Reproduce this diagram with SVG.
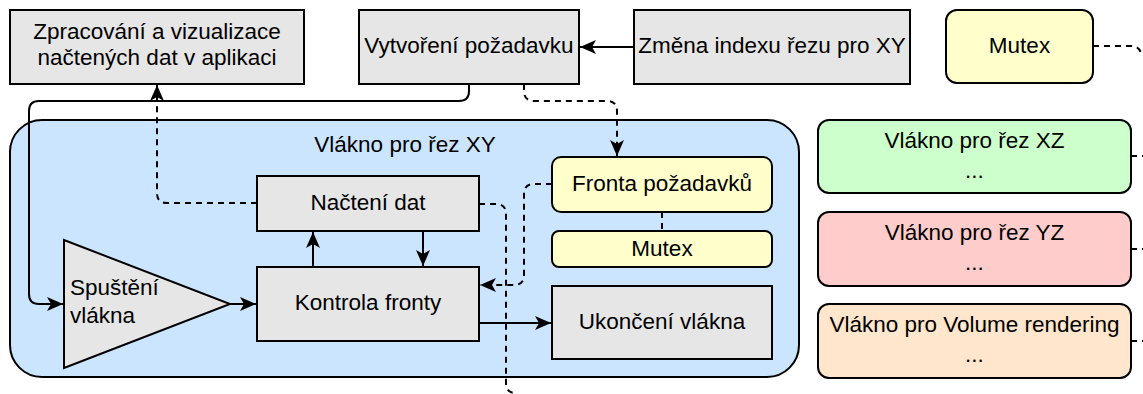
<svg xmlns="http://www.w3.org/2000/svg" width="1143" height="394" viewBox="0 0 1143 394">
<style>
text{font-family:"Liberation Sans",Arial,sans-serif;font-size:22.5px;fill:#000;text-anchor:middle;dominant-baseline:central}
.b{stroke:#000;stroke-width:2}
.g{fill:#e6e6e6}
.y{fill:#ffffcc}
.c{fill:none;stroke:#000;stroke-width:2}
.d{stroke-dasharray:6 5}
</style>
<defs>
<marker id="a" markerUnits="userSpaceOnUse" markerWidth="18" markerHeight="14" refX="16" refY="7" orient="auto">
<path d="M0,0 L16,7 L0,14 L4,7 Z" fill="#000"/>
</marker>
</defs>
<g id="container">
<rect class="b" x="10" y="120" width="789" height="257" rx="32" fill="#cce5ff"/>
<text x="405" y="144">Vlákno pro řez XY</text>
</g>
<g id="zpracovani">
<rect class="b g" x="10" y="10" width="294" height="74"/>
<text x="157" y="31.5">Zpracování a vizualizace</text>
<text x="157" y="57.5">načtených dat v aplikaci</text>
</g>
<g id="vytvoreni">
<rect class="b g" x="359" y="10" width="220" height="74"/>
<text x="469" y="45.5">Vytvoření požadavku</text>
</g>
<g id="zmena">
<rect class="b g" x="634" y="10" width="276" height="74"/>
<text x="772" y="45.5">Změna indexu řezu pro XY</text>
</g>
<g id="mutex-top">
<rect class="b y" x="946" y="10" width="147" height="73" rx="11"/>
<text x="1019.5" y="45">Mutex</text>
</g>
<g id="nacteni">
<rect class="b g" x="257" y="176" width="222" height="55"/>
<text x="368" y="202">Načtení dat</text>
</g>
<g id="kontrola">
<rect class="b g" x="257" y="267" width="222" height="74"/>
<text x="368" y="302.5">Kontrola fronty</text>
</g>
<g id="spusteni">
<polygon class="b g" points="64,240 64,368 230,304"/>
<text x="70" y="287" style="text-anchor:start">Spuštění</text>
<text x="70" y="315" style="text-anchor:start">vlákna</text>
</g>
<g id="fronta">
<rect class="b y" x="552" y="157" width="220" height="55" rx="9"/>
<text x="662" y="183">Fronta požadavků</text>
</g>
<g id="mutex-inner">
<rect class="b y" x="552" y="231" width="220" height="36" rx="7"/>
<text x="662" y="248">Mutex</text>
</g>
<g id="ukonceni">
<rect class="b g" x="552" y="286" width="220" height="73"/>
<text x="662" y="321.5">Ukončení vlákna</text>
</g>
<g id="xz">
<rect class="b" x="818" y="120" width="313" height="73" rx="11" fill="#ccffcc"/>
<text x="974.5" y="140">Vlákno pro řez XZ</text>
<text x="974.5" y="170">...</text>
</g>
<g id="yz">
<rect class="b" x="818" y="212" width="313" height="74" rx="11" fill="#ffcccc"/>
<text x="974.5" y="232">Vlákno pro řez YZ</text>
<text x="974.5" y="262">...</text>
</g>
<g id="volume">
<rect class="b" x="818" y="304" width="313" height="74" rx="11" fill="#ffe6cc"/>
<text x="974.5" y="324">Vlákno pro Volume rendering</text>
<text x="974.5" y="354">...</text>
</g>
<g id="connectors">
<path class="c" d="M634,47 H580" marker-end="url(#a)"/>
<path class="c" d="M469,84 V91 Q469,101 459,101 H39 Q29,101 29,111 V294 Q29,304 39,304 H63" marker-end="url(#a)"/>
<path class="c" d="M230,304 H256" marker-end="url(#a)"/>
<path class="c" d="M313,267 V232" marker-end="url(#a)"/>
<path class="c" d="M423,231 V266" marker-end="url(#a)"/>
<path class="c" d="M479,323 H551" marker-end="url(#a)"/>
<path class="c d" d="M257,203 H167 Q157,203 157,193 V85" marker-end="url(#a)"/>
<path class="c d" d="M524,84 V91 Q524,101 534,101 H607 Q617,101 617,111 V156" marker-end="url(#a)"/>
<path class="c d" d="M552,184 H534 Q524,184 524,194 V275 Q524,285 514,285 H480" marker-end="url(#a)"/>
<path class="c d" d="M479,204 H496 Q506,204 506,214 V383 Q506,393 516,393"/>
<path class="c d" d="M662,212 V231"/>
<path class="c d" d="M1093,46 H1131 Q1141,46 1141,56"/>
<path class="c d" d="M1131,156 H1143"/>
<path class="c d" d="M1131,249 H1143"/>
<path class="c d" d="M1131,341 H1143"/>
</g>
</svg>
